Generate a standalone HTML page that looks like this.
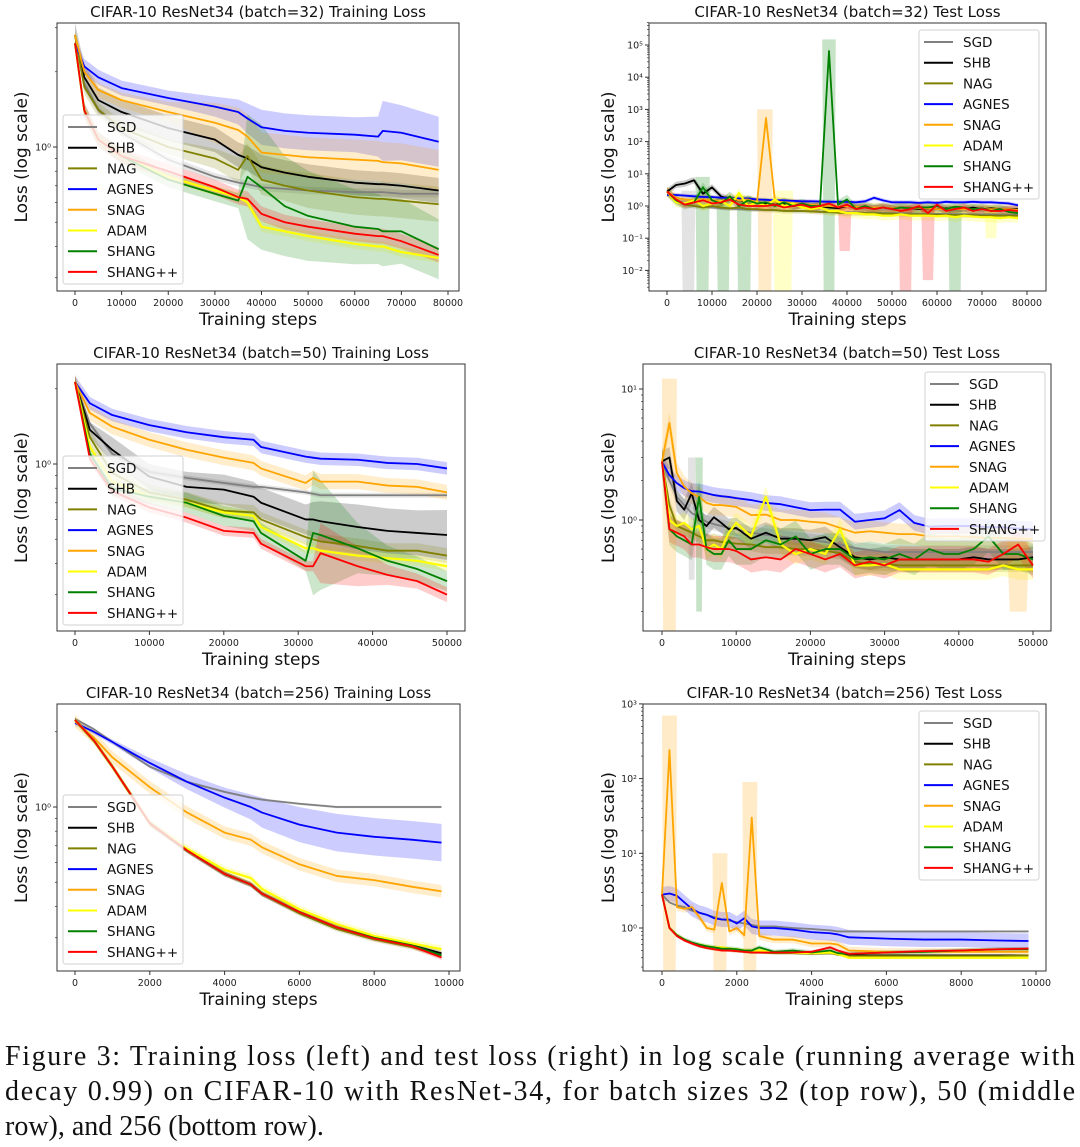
<!DOCTYPE html>
<html><head><meta charset="utf-8"><style>
html,body{margin:0;padding:0;background:#fff;}
svg{display:block;}
</style></head><body>
<svg id="fig" xmlns="http://www.w3.org/2000/svg" width="1080" height="1147" viewBox="0 0 1080 1147">
<rect width="1080" height="1147" fill="#fff"/>
<g font-family="'Liberation Serif', serif" font-size="28" fill="#111">
<text x="5" y="1065" textLength="1070" lengthAdjust="spacing">Figure 3: Training loss (left) and test loss (right) in log scale (running average with</text>
<text x="5" y="1100" textLength="1070" lengthAdjust="spacing">decay 0.99) on CIFAR-10 with ResNet-34, for batch sizes 32 (top row), 50 (middle</text>
<text x="5" y="1135">row), and 256 (bottom row).</text>
</g>
</svg>
<script>
// ---------- shared ----------
const NAMES = ['SGD','SHB','NAG','AGNES','SNAG','ADAM','SHANG','SHANG++'];
const COLORS = ['#808080','#000000','#808000','#0000ff','#ffa500','#ffff00','#008000','#ff0000'];

// ---------- panel 1: batch 32 training ----------
const p1Steps = [0,2000,5000,10000,20000,30000,35000,37000,40000,45000,50000,60000,65000,66000,70000,78000];
const p1SGD   = [2.8,1.8,1.41,1.14,0.89,0.76,0.72,0.71,0.69,0.68,0.67,0.66,0.66,0.66,0.65,0.65];
const p1SHB   = [2.8,1.9,1.54,1.38,1.19,1.07,0.93,0.9,0.83,0.79,0.76,0.72,0.71,0.71,0.7,0.67];
const p1NAG   = [2.8,1.74,1.41,1.19,1.0,0.9,0.81,0.92,0.74,0.7,0.67,0.63,0.62,0.62,0.61,0.59];
const p1AGNES = [2.6,2.1,1.9,1.72,1.57,1.45,1.38,1.3,1.2,1.16,1.14,1.12,1.1,1.16,1.14,1.05];
const p1SNAG  = [2.8,2.0,1.69,1.54,1.38,1.25,1.17,1.1,0.95,0.93,0.91,0.89,0.88,0.87,0.86,0.81];
const p1ADAM  = [2.6,1.4,1.07,0.92,0.76,0.67,0.63,0.6,0.48,0.46,0.44,0.41,0.4,0.4,0.38,0.36];
const p1SHANG = [2.6,1.4,1.07,0.92,0.74,0.65,0.61,0.76,0.69,0.58,0.53,0.48,0.47,0.46,0.46,0.39];
const p1SHANGpp = [2.6,1.4,1.07,0.92,0.8,0.69,0.63,0.62,0.54,0.5,0.48,0.45,0.44,0.44,0.42,0.37];
const p1SpreadAGNES = [0.02,0.03,0.03,0.03,0.03,0.04,0.05,0.06,0.07,0.07,0.07,0.07,0.08,0.12,0.11,0.1];
const p1SpreadSNAG  = [0.02,0.03,0.03,0.03,0.04,0.08,0.09,0.09,0.08,0.08,0.08,0.08,0.08,0.08,0.08,0.08];
const p1SpreadNAG   = [0.02,0.03,0.03,0.03,0.03,0.04,0.05,0.05,0.06,0.06,0.07,0.07,0.07,0.07,0.07,0.07];
const p1SpreadSHANG = [0.02,0.03,0.03,0.03,0.03,0.03,0.03,0.25,0.25,0.2,0.18,0.15,0.14,0.14,0.13,0.12];

// ---------- panel 2: batch 32 test ----------
const p2Steps = [0,2000,4000,6000,8000,10000,12000,14000,16000,18000,20000,22000,24000,26000,28000,30000,32000,34000,36000,38000,40000,42000,44000,46000,48000,50000,52000,54000,56000,58000,60000,62000,64000,66000,68000,70000,72000,74000,76000,78000];
const p2SGD   = [2.8,1.6,1.1,1.0,0.95,0.9,0.85,0.82,0.8,0.78,0.76,0.75,0.74,0.72,0.7,0.7,0.68,0.67,0.66,0.65,0.64,0.63,0.62,0.62,0.61,0.6,0.6,0.59,0.58,0.58,0.57,0.57,0.56,0.56,0.55,0.55,0.55,0.54,0.54,0.54];
const p2SHB   = [2.8,4.5,5.0,6.3,2.4,3.8,2.0,1.6,1.5,1.5,1.3,1.2,1.1,1.2,1.0,1.1,1.0,1.0,0.9,0.85,1.0,0.95,0.9,0.85,0.9,0.85,0.9,0.85,0.8,0.85,0.8,0.85,0.8,0.8,0.9,0.8,0.85,0.8,0.8,0.8];
const p2NAG   = [2.8,1.4,1.1,1.0,0.9,1.0,0.9,0.85,0.9,0.8,0.8,0.75,0.75,0.7,0.7,0.7,0.68,0.65,0.65,0.62,0.6,0.6,0.6,0.6,0.58,0.58,0.56,0.55,0.55,0.55,0.54,0.53,0.53,0.52,0.52,0.5,0.5,0.5,0.5,0.5];
const p2AGNES = [2.2,2.2,2.1,2.0,1.9,1.9,1.8,1.8,1.7,1.7,1.6,1.55,1.5,1.5,1.45,1.4,1.4,1.38,1.35,1.35,1.35,1.3,1.4,1.8,1.5,1.3,1.3,1.3,1.25,1.3,1.25,1.35,1.3,1.3,1.35,1.3,1.3,1.25,1.2,1.05];
const p2SNAG  = [2.8,1.8,1.6,1.5,1.6,1.5,1.4,1.8,1.5,1.6,1.3,540,1.4,1.3,1.2,1.1,1.1,1.0,1.0,0.95,1.0,0.95,0.9,0.9,0.9,0.85,0.9,0.85,0.85,0.85,0.8,0.8,0.8,0.8,0.8,0.8,0.8,0.8,0.8,0.75];
const p2ADAM  = [2.8,1.3,1.2,1.5,1.0,1.2,1.4,1.0,2.5,1.0,1.3,1.0,1.6,1.0,1.2,0.9,0.8,0.9,0.7,0.7,0.6,0.6,0.55,0.55,0.5,0.5,0.55,0.5,0.5,0.5,0.48,0.5,0.45,0.5,0.47,0.45,0.45,0.42,0.45,0.42];
const p2SHANG = [2.8,1.5,1.1,1.3,3.8,1.5,1.2,2.0,1.0,1.5,1.2,1.3,1.0,1.3,1.0,1.2,1.0,1.0,65000,1.1,1.6,0.8,1.0,0.8,0.9,0.8,0.9,0.85,0.9,0.9,1.0,0.8,0.95,0.9,0.8,0.85,0.7,0.8,0.65,0.6];
const p2SHANGpp = [2.8,1.6,1.1,1.3,1.5,1.2,1.3,1.6,1.1,1.0,1.0,1.0,1.1,0.9,1.0,1.1,0.9,1.0,1.2,0.9,1.1,0.8,0.9,0.8,0.9,0.8,0.7,0.8,1.0,0.6,1.1,0.7,0.8,0.9,0.7,0.8,0.7,0.7,0.75,0.7];
const p2Spread = [0.05,0.1,0.08,0.06,0.15,0.15,0.15,0.12];
const p2DipSeries = [0,6,6,6,4,5,6,7,7,7,5,6];
const p2DipFrom = [3200,6300,11000,15500,20000,23500,34500,38000,51500,56500,70500,62500];
const p2DipTo   = [6300,9500,14000,18800,23500,28000,37500,41000,54500,59500,73500,65500];
const p2DipLo   = [0.0001,0.0001,0.0001,0.0001,0.0001,0.0001,0.0001,0.04,0.0001,0.005,0.1,0.0001];
const p2DipHi   = [3,8,2,2,1000,3,150000,1,1,1,1,1];

// ---------- panel 3: batch 50 training ----------
const p3Steps = [0,2000,5000,10000,15000,20000,24000,25000,31000,32000,33000,38000,42000,46000,50000];
const p3SGD   = [2.13,1.45,1.1,0.93,0.88,0.84,0.81,0.81,0.77,0.76,0.75,0.75,0.75,0.75,0.75];
const p3SHB   = [2.13,1.37,1.14,0.89,0.81,0.79,0.74,0.7,0.6,0.6,0.59,0.56,0.54,0.53,0.52];
const p3NAG   = [2.13,1.28,0.92,0.77,0.72,0.65,0.64,0.6,0.51,0.5,0.49,0.47,0.45,0.45,0.43];
const p3AGNES = [2.13,1.75,1.57,1.43,1.34,1.28,1.25,1.17,1.07,1.06,1.05,1.04,1.01,1.0,0.96];
const p3SNAG  = [2.13,1.6,1.41,1.25,1.14,1.06,1.01,0.96,0.84,0.88,0.85,0.85,0.82,0.81,0.77];
const p3ADAM  = [2.13,1.17,0.85,0.74,0.7,0.64,0.62,0.56,0.46,0.46,0.45,0.43,0.42,0.41,0.39];
const p3SHANG = [2.13,1.1,0.8,0.74,0.7,0.62,0.59,0.53,0.41,0.53,0.52,0.46,0.41,0.38,0.34];
const p3SHANGpp = [2.13,1.05,0.78,0.67,0.61,0.54,0.53,0.48,0.39,0.39,0.44,0.39,0.36,0.34,0.3];
const p3SpreadSHB   = [0.02,0.03,0.05,0.05,0.06,0.06,0.06,0.06,0.06,0.07,0.08,0.09,0.09,0.09,0.1];
const p3SpreadSHANG = [0.02,0.03,0.03,0.03,0.04,0.04,0.04,0.04,0.04,0.25,0.22,0.1,0.06,0.05,0.04];
const p3SpreadSHANGpp = [0.02,0.02,0.02,0.02,0.02,0.02,0.02,0.02,0.02,0.02,0.12,0.08,0.04,0.03,0.03];

// ---------- panel 4: batch 50 test ----------
const p4Steps = [0,1000,2000,3000,4000,5000,6000,7000,8000,9000,10000,12000,14000,16000,18000,20000,22000,24000,26000,28000,30000,32000,34000,36000,38000,40000,42000,44000,46000,48000,50000];
const p4SGD   = [2.8,2.0,1.5,1.3,1.13,1.05,0.97,0.93,0.9,0.87,0.85,0.8,0.77,0.75,0.72,0.7,0.68,0.65,0.61,0.59,0.57,0.57,0.57,0.57,0.57,0.57,0.57,0.57,0.57,0.57,0.57];
const p4SHB   = [2.8,3.0,1.4,1.2,1.6,1.0,0.9,1.05,0.95,0.85,0.87,0.72,0.8,0.72,0.72,0.7,0.74,0.62,0.52,0.5,0.52,0.5,0.5,0.5,0.5,0.5,0.52,0.5,0.5,0.5,0.52];
const p4NAG   = [2.8,1.3,0.9,0.85,0.8,0.75,0.7,0.7,0.68,0.67,0.66,0.65,0.62,0.62,0.6,0.6,0.58,0.56,0.48,0.46,0.46,0.45,0.45,0.45,0.45,0.45,0.45,0.45,0.45,0.45,0.45];
const p4AGNES = [2.78,2.2,1.91,1.75,1.66,1.65,1.6,1.55,1.52,1.5,1.47,1.42,1.35,1.32,1.25,1.19,1.2,1.2,0.97,1.0,1.03,1.19,0.95,0.89,0.9,0.9,0.9,0.88,0.88,0.86,0.85];
const p4SNAG  = [2.8,5.5,2.28,1.8,1.6,1.5,1.35,1.3,1.3,1.28,1.26,1.09,1.1,1.0,1.0,0.97,0.95,0.87,0.8,0.82,0.8,0.78,0.78,0.75,0.75,0.75,0.74,0.73,0.73,0.72,0.72];
const p4ADAM  = [2.8,1.0,0.9,0.95,0.85,0.9,0.6,0.65,0.6,0.8,0.95,0.75,1.5,0.65,0.55,0.6,0.55,0.85,0.45,0.45,0.46,0.42,0.42,0.42,0.42,0.42,0.42,0.42,0.45,0.42,0.42];
const p4SHANG = [2.8,0.85,0.75,0.7,0.65,1.5,0.6,0.55,0.55,0.7,0.6,0.6,0.7,0.65,0.75,0.55,0.6,0.6,0.5,0.52,0.5,0.55,0.5,0.6,0.55,0.55,0.6,0.75,0.55,0.55,0.5];
const p4SHANGpp = [2.8,0.85,0.8,0.75,0.65,0.65,0.62,0.6,0.6,0.6,0.58,0.5,0.52,0.5,0.6,0.55,0.5,0.55,0.45,0.48,0.45,0.5,0.5,0.5,0.5,0.5,0.5,0.48,0.55,0.65,0.45];
const p4Spread = [0.05,0.08,0.05,0.06,0.08,0.08,0.12,0.1];
const p4DipSeries = [4,0,6,4];
const p4DipFrom = [0,3500,4500,46500];
const p4DipTo   = [2000,4500,5500,49500];
const p4DipLo   = [0.01,0.35,0.2,0.2];
const p4DipHi   = [12,3,3,0.75];

// ---------- panel 5: batch 256 training ----------
const p5Steps = [0,500,1000,2000,3000,4000,4700,5000,6000,7000,8000,9000,9800];
const p5SGD   = [2.25,2.05,1.82,1.45,1.26,1.15,1.09,1.07,1.03,1.0,1.0,1.0,1.0];
const p5SHB   = [2.23,1.85,1.45,0.86,0.67,0.54,0.49,0.45,0.38,0.33,0.3,0.28,0.26];
const p5NAG   = [2.23,1.85,1.45,0.86,0.67,0.54,0.49,0.45,0.375,0.325,0.295,0.275,0.255];
const p5AGNES = [2.17,2.0,1.82,1.5,1.26,1.09,1.0,0.95,0.85,0.79,0.76,0.74,0.72];
const p5SNAG  = [2.2,1.9,1.58,1.2,0.95,0.79,0.74,0.69,0.59,0.53,0.51,0.48,0.46];
const p5ADAM  = [2.23,1.85,1.45,0.86,0.68,0.56,0.52,0.47,0.39,0.34,0.305,0.285,0.27];
const p5SHANG = [2.23,1.85,1.45,0.86,0.67,0.54,0.49,0.45,0.38,0.33,0.3,0.28,0.255];
const p5SHANGpp = [2.23,1.85,1.45,0.86,0.67,0.54,0.49,0.45,0.38,0.33,0.298,0.278,0.25];
const p5SpreadAGNES = [0.01,0.01,0.01,0.02,0.03,0.04,0.05,0.06,0.07,0.075,0.075,0.075,0.075];

// ---------- panel 6: batch 256 test ----------
const p6Steps = [0,200,400,600,800,1000,1200,1400,1600,1800,2000,2200,2400,2600,3000,3500,4000,4500,4700,5000,6000,7000,8000,9000,9800];
const p6SGD   = [2.8,2.2,2.0,1.9,1.7,1.6,1.5,1.4,1.3,1.25,1.2,1.15,1.1,1.05,1.05,1.0,0.97,0.93,0.9,0.9,0.9,0.9,0.9,0.9,0.9];
const p6SHB   = [2.8,1.0,0.8,0.7,0.63,0.58,0.55,0.53,0.52,0.51,0.5,0.49,0.48,0.48,0.47,0.47,0.46,0.46,0.45,0.43,0.43,0.43,0.43,0.43,0.43];
const p6NAG   = [2.8,1.0,0.8,0.7,0.62,0.57,0.54,0.52,0.51,0.5,0.49,0.48,0.47,0.47,0.46,0.46,0.45,0.46,0.44,0.42,0.42,0.42,0.42,0.42,0.43];
const p6AGNES = [2.8,2.9,2.7,2.2,1.8,1.6,1.5,1.35,1.3,1.3,1.15,1.35,1.05,1.0,1.0,0.95,0.88,0.85,0.82,0.75,0.72,0.7,0.7,0.68,0.67];
const p6SNAG  = [2.8,240,1.9,1.8,1.9,1.4,1.0,0.95,4.0,0.9,1.0,0.8,30,0.78,0.7,0.7,0.62,0.62,0.6,0.5,0.48,0.48,0.48,0.48,0.48];
const p6ADAM  = [2.8,1.0,0.8,0.7,0.63,0.6,0.57,0.55,0.55,0.53,0.52,0.5,0.5,0.5,0.48,0.47,0.46,0.47,0.45,0.4,0.4,0.4,0.4,0.4,0.4];
const p6SHANG = [2.8,1.0,0.8,0.7,0.64,0.6,0.57,0.55,0.53,0.53,0.52,0.5,0.5,0.55,0.48,0.5,0.47,0.5,0.46,0.45,0.47,0.48,0.5,0.52,0.52];
const p6SHANGpp = [2.8,1.0,0.78,0.68,0.62,0.57,0.54,0.52,0.5,0.5,0.49,0.48,0.47,0.47,0.47,0.47,0.48,0.55,0.5,0.45,0.47,0.49,0.5,0.52,0.53];
const p6Spread = [0.01,0.01,0.02,0.1,0.05,0.02,0.03,0.02];
const p6DipSeries = [4,4,4];
const p6DipFrom = [0,1350,2150];
const p6DipTo   = [400,1750,2550];
const p6DipLo   = [0.01,0.01,0.01];
const p6DipHi   = [700,10,90];

// tick label arrays
const xTicks80k = [0,10000,20000,30000,40000,50000,60000,70000,80000];
const xTicks50k = [0,10000,20000,30000,40000,50000];
const xTicks10k = [0,2000,4000,6000,8000,10000];

const panels = [
 {id:'train-b32', title:'CIFAR-10 ResNet34 (batch=32) Training Loss', L:57,R:459,T:23,B:291, x0:75,x1:448,xmax:80000, y0:147,D:250, ticks:xTicks80k, steps:p1Steps,
  series:[p1SGD,p1SHB,p1NAG,p1AGNES,p1SNAG,p1ADAM,p1SHANG,p1SHANGpp],
  spread:[0.015,0.05,p1SpreadNAG,p1SpreadAGNES,p1SpreadSNAG,0.02,p1SpreadSHANG,0.03], legend:{x:63,y:115}, ylx:27},
 {id:'test-b32', title:'CIFAR-10 ResNet34 (batch=32) Test Loss', L:649,R:1046,T:23,B:291, x0:667,x1:1027,xmax:80000, y0:206,D:32.2, ticks:xTicks80k, steps:p2Steps,
  series:[p2SGD,p2SHB,p2NAG,p2AGNES,p2SNAG,p2ADAM,p2SHANG,p2SHANGpp], spread:p2Spread,
  dips:{s:p2DipSeries,f:p2DipFrom,t:p2DipTo,lo:p2DipLo,hi:p2DipHi}, legend:{x:919,y:30}, ylx:614},
 {id:'train-b50', title:'CIFAR-10 ResNet34 (batch=50) Training Loss', L:57,R:465,T:364,B:631, x0:75,x1:447,xmax:50000, y0:464,D:250, ticks:xTicks50k, steps:p3Steps,
  series:[p3SGD,p3SHB,p3NAG,p3AGNES,p3SNAG,p3ADAM,p3SHANG,p3SHANGpp],
  spread:[0.01,p3SpreadSHB,0.03,0.025,0.03,0.02,p3SpreadSHANG,p3SpreadSHANGpp], legend:{x:63,y:456}, ylx:27},
 {id:'test-b50', title:'CIFAR-10 ResNet34 (batch=50) Test Loss', L:643,R:1051,T:364,B:631, x0:662,x1:1033,xmax:50000, y0:520,D:131, ticks:xTicks50k, steps:p4Steps,
  series:[p4SGD,p4SHB,p4NAG,p4AGNES,p4SNAG,p4ADAM,p4SHANG,p4SHANGpp], spread:p4Spread,
  dips:{s:p4DipSeries,f:p4DipFrom,t:p4DipTo,lo:p4DipLo,hi:p4DipHi}, legend:{x:925,y:372}, ylx:614},
 {id:'train-b256', title:'CIFAR-10 ResNet34 (batch=256) Training Loss', L:57,R:460,T:704,B:971, x0:75,x1:449,xmax:10000, y0:807,D:250, ticks:xTicks10k, steps:p5Steps,
  series:[p5SGD,p5SHB,p5NAG,p5AGNES,p5SNAG,p5ADAM,p5SHANG,p5SHANGpp],
  spread:[0.005,0.01,0.01,p5SpreadAGNES,0.025,0.015,0.01,0.01], legend:{x:63,y:795}, ylx:27},
 {id:'test-b256', title:'CIFAR-10 ResNet34 (batch=256) Test Loss', L:643,R:1046,T:704,B:971, x0:662,x1:1036,xmax:10000, y0:928,D:74.7, ticks:xTicks10k, steps:p6Steps,
  series:[p6SGD,p6SHB,p6NAG,p6AGNES,p6SNAG,p6ADAM,p6SHANG,p6SHANGpp], spread:p6Spread,
  dips:{s:p6DipSeries,f:p6DipFrom,t:p6DipTo,lo:p6DipLo,hi:p6DipHi}, legend:{x:919,y:711}, ylx:614}
];

const NS='http://www.w3.org/2000/svg';
const svg=document.getElementById('fig');
function mk(tag, attrs, parent){const e=document.createElementNS(NS,tag);for(const k in attrs)e.setAttribute(k,attrs[k]);(parent||svg).appendChild(e);return e;}
const FONT="'DejaVu Sans','Liberation Sans',sans-serif";
const SUP={'-':'\u207B','0':'\u2070','1':'\u00B9','2':'\u00B2','3':'\u00B3','4':'\u2074','5':'\u2075'};

panels.forEach((p,pi)=>{
  const X=s=>p.x0+s/p.xmax*(p.x1-p.x0);
  const Y=v=>p.y0-Math.log10(v)*p.D;
  const sp=(si,i)=>{const a=p.spread[si];return Array.isArray(a)?a[i]:a;};
  const g=mk('g',{});
  
  
  const cp=mk('clipPath',{id:'clip'+pi},g);
  mk('rect',{x:p.L,y:p.T,width:p.R-p.L,height:p.B-p.T},cp);
  const plot=mk('g',{'clip-path':'url(#clip'+pi+')'},g);
  
  
  p.series.forEach((vals,si)=>{
    let up=[],dn=[];
    vals.forEach((v,i)=>{const s=sp(si,i);up.push(X(p.steps[i])+','+Y(v*Math.pow(10,s)));dn.unshift(X(p.steps[i])+','+Y(v/Math.pow(10,s)));});
    const b=mk('polygon',{points:up.concat(dn).join(' '),fill:COLORS[si],'fill-opacity':0.2,stroke:'none'},plot);
    
    
  });
  if(p.dips){
    p.dips.s.forEach((si,k)=>{
      const f=X(p.dips.f[k]),t=X(p.dips.t[k]),w=(t-f)*0.12;
      const hi=Y(p.dips.hi[k]),lo=Y(p.dips.lo[k]);
      const d=mk('polygon',{points:`${f},${hi} ${f+w},${lo} ${t-w},${lo} ${t},${hi}`,fill:COLORS[si],'fill-opacity':0.22},plot);
      
      
    });
  }
  p.series.forEach((vals,si)=>{
    const pts=vals.map((v,i)=>X(p.steps[i])+','+Y(v)).join(' ');
    const l=mk('polyline',{points:pts,fill:'none',stroke:COLORS[si],'stroke-width':si==5?2.2:1.8,'stroke-linejoin':'round'},plot);
    
    
  });
  const fr=mk('rect',{x:p.L,y:p.T,width:p.R-p.L,height:p.B-p.T,fill:'none',stroke:'#333','stroke-width':1},g);
  
  
  p.ticks.forEach(t=>{
    const x=X(t);
    mk('line',{x1:x,x2:x,y1:p.B,y2:p.B+4,stroke:'#333'},g);
    const tl=mk('text',{x:x,y:p.B+15,'text-anchor':'middle','font-family':FONT,'font-size':9.5,fill:'#222'},g);
    tl.textContent=String(t);
    
    
  });
  const lTop=(p.y0-p.T)/p.D, lBot=(p.y0-p.B)/p.D;
  for(let e=Math.floor(lBot);e<=Math.ceil(lTop);e++){
    for(let m=1;m<10;m++){
      const lv=e+Math.log10(m);
      if(lv<lBot-0.03||lv>lTop+0.03)continue;
      const y=p.y0-lv*p.D;
      mk('line',{x1:p.L,x2:p.L-(m==1?4:2),y1:y,y2:y,stroke:'#333','stroke-width':m==1?1:0.7},g);
      if(m==1){
        const tl=mk('text',{x:p.L-6,y:y+3.5,'text-anchor':'end','font-family':FONT,'font-size':9.5,fill:'#222'},g);
        tl.textContent='10'+String(e).split('').map(c=>SUP[c]).join('');
        
        
      }
    }
  }
  const tt=mk('text',{x:(p.L+p.R)/2,y:p.T-6,'text-anchor':'middle','font-family':FONT,'font-size':15,fill:'#111'},g);
  tt.textContent=p.title;
  
  
  const xl=mk('text',{x:(p.L+p.R)/2,y:p.B+34,'text-anchor':'middle','font-family':FONT,'font-size':17,fill:'#111'},g);
  xl.textContent='Training steps';
  
  
  const yc=(p.T+p.B)/2;
  const yl=mk('text',{x:p.ylx,y:yc,'text-anchor':'middle','font-family':FONT,'font-size':17,fill:'#111',transform:`rotate(-90 ${p.ylx} ${yc})`},g);
  yl.textContent='Loss (log scale)';
  
  
  const lg=mk('g',{},g);
  
  
  mk('rect',{x:p.legend.x,y:p.legend.y,width:120,height:169,rx:2.5,fill:'#fff','fill-opacity':0.8,stroke:'#d0d0d0','stroke-width':1},lg);
  NAMES.forEach((n,si)=>{
    const y=p.legend.y+12+si*20.7;
    const e=mk('g',{},lg);
    
    
    mk('line',{x1:p.legend.x+5,x2:p.legend.x+34,y1:y,y2:y,stroke:COLORS[si],'stroke-width':2},e);
    const t=mk('text',{x:p.legend.x+44,y:y+5,'font-family':FONT,'font-size':13.5,fill:'#111'},e);
    t.textContent=n;
  });
});
</script>
</body></html>
